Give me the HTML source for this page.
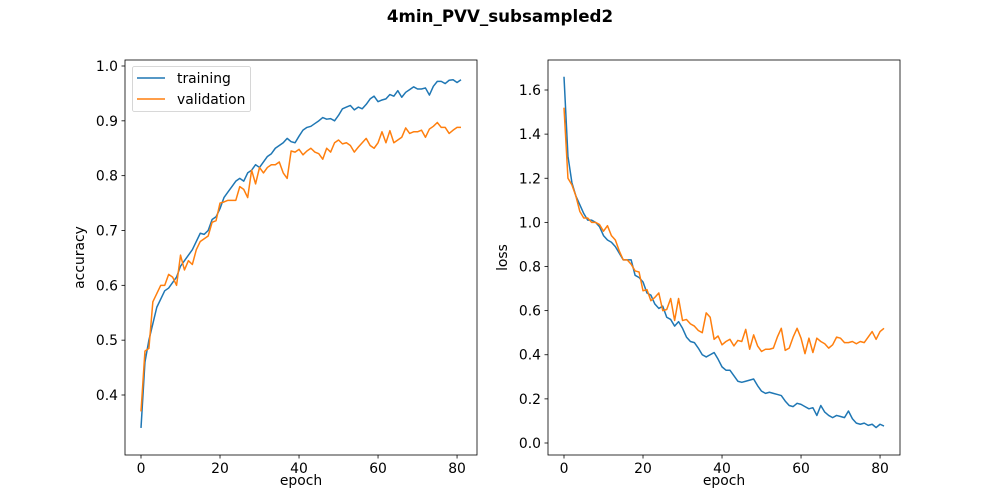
<!DOCTYPE html>
<html><head><meta charset="utf-8"><style>
html,body{margin:0;padding:0;background:#fff;overflow:hidden;}
svg{display:block;}
svg text{font-family:"DejaVu Sans","Liberation Sans",sans-serif;font-size:13.9px;fill:#000;}
</style></head><body>
<svg id="c" width="1000" height="500" xmlns="http://www.w3.org/2000/svg">
<rect width="1000" height="500" fill="#fff"/>
<text x="500" y="22" text-anchor="middle" style="font-size:16.7px;font-weight:bold">4min_PVV_subsampled2</text>
</svg>
<script>
const epochs = Array.from({length:82},(_, i)=>i);
const accTrain=[0.34,0.46,0.50,0.53,0.56,0.575,0.59,0.595,0.605,0.615,0.635,0.645,0.655,0.665,0.68,0.695,0.693,0.70,0.72,0.725,0.74,0.76,0.77,0.78,0.79,0.795,0.79,0.805,0.81,0.82,0.815,0.825,0.835,0.84,0.85,0.855,0.86,0.868,0.862,0.86,0.872,0.883,0.888,0.89,0.895,0.90,0.906,0.903,0.904,0.90,0.91,0.922,0.925,0.928,0.92,0.925,0.922,0.93,0.94,0.945,0.935,0.938,0.94,0.948,0.945,0.955,0.943,0.952,0.957,0.962,0.958,0.958,0.96,0.947,0.963,0.972,0.972,0.968,0.974,0.975,0.97,0.975];
const accVal=[0.37,0.48,0.485,0.57,0.585,0.60,0.60,0.62,0.615,0.60,0.655,0.628,0.645,0.638,0.665,0.68,0.685,0.69,0.715,0.718,0.75,0.752,0.755,0.755,0.755,0.78,0.775,0.76,0.81,0.785,0.815,0.805,0.815,0.82,0.82,0.825,0.805,0.795,0.845,0.843,0.848,0.838,0.845,0.85,0.843,0.84,0.83,0.85,0.843,0.86,0.865,0.858,0.86,0.855,0.843,0.852,0.86,0.868,0.855,0.85,0.86,0.88,0.86,0.882,0.86,0.865,0.87,0.887,0.877,0.88,0.88,0.883,0.87,0.885,0.89,0.897,0.888,0.888,0.877,0.883,0.888,0.888];
const lossTrain=[1.66,1.3,1.18,1.12,1.08,1.04,1.01,1.01,1.0,0.98,0.94,0.92,0.91,0.89,0.86,0.83,0.83,0.83,0.76,0.75,0.73,0.68,0.67,0.63,0.61,0.62,0.57,0.56,0.53,0.55,0.52,0.48,0.46,0.455,0.43,0.40,0.39,0.40,0.41,0.38,0.345,0.33,0.33,0.305,0.28,0.275,0.28,0.285,0.29,0.26,0.235,0.225,0.23,0.225,0.22,0.215,0.19,0.17,0.165,0.18,0.175,0.165,0.155,0.16,0.125,0.17,0.14,0.125,0.115,0.125,0.12,0.115,0.145,0.11,0.09,0.085,0.09,0.08,0.085,0.07,0.085,0.077];
const lossVal=[1.52,1.2,1.17,1.12,1.05,1.02,1.02,1.0,1.0,0.99,0.96,0.985,0.94,0.92,0.87,0.83,0.83,0.81,0.78,0.775,0.69,0.695,0.645,0.66,0.68,0.6,0.605,0.655,0.555,0.655,0.555,0.56,0.54,0.53,0.51,0.5,0.59,0.57,0.47,0.485,0.445,0.46,0.47,0.44,0.465,0.46,0.515,0.425,0.49,0.44,0.415,0.425,0.425,0.43,0.48,0.52,0.42,0.43,0.48,0.52,0.475,0.405,0.475,0.41,0.475,0.46,0.45,0.43,0.445,0.48,0.475,0.455,0.455,0.46,0.45,0.46,0.455,0.48,0.505,0.47,0.505,0.52];
const xTicks=[0,20,40,60,80];
const accTicks=[0.4,0.5,0.6,0.7,0.8,0.9,1.0];
const lossTicks=[0.0,0.2,0.4,0.6,0.8,1.0,1.2,1.4,1.6];
const NS="http://www.w3.org/2000/svg";
const svg=document.getElementById('c');
function mk(tag,attrs,parent){const e=document.createElementNS(NS,tag);for(const k in attrs)e.setAttribute(k,attrs[k]);(parent||svg).appendChild(e);return e;}
function panel(name,L,R,T,B,x0,x1,y0,y1,yTicks,ylabel,dec,series){
  const g=mk('g',{});
  
  
  const sx=v=>L+(v-x0)/(x1-x0)*(R-L);
  const sy=v=>B-(v-y0)/(y1-y0)*(B-T);
  series.forEach(s=>{
    const p=mk('polyline',{points:s.vals.map((v,i)=>sx(epochs[i]).toFixed(2)+','+sy(v).toFixed(2)).join(' '),fill:'none',stroke:s.color,'stroke-width':1.5,'stroke-linejoin':'round'},g);
    
    
  });
  const f=mk('rect',{x:L,y:T,width:R-L,height:B-T,fill:'none',stroke:'#000','stroke-width':0.8},g);
  
  
  xTicks.forEach(t=>{const x=sx(t);mk('line',{x1:x,x2:x,y1:B,y2:B+3.5,stroke:'#000','stroke-width':0.8},g);
    const tx=mk('text',{x:x,y:B+18,'text-anchor':'middle'},g);tx.textContent=t;
    
    });
  yTicks.forEach(t=>{const y=sy(t);mk('line',{x1:L-3.5,x2:L,y1:y,y2:y,stroke:'#000','stroke-width':0.8},g);
    const tx=mk('text',{x:L-7,y:y+5,'text-anchor':'end'},g);tx.textContent=t.toFixed(dec);
    
    });
  const xl=mk('text',{x:(L+R)/2,y:B+30,'text-anchor':'middle'},g);xl.textContent='epoch';
  
  
  const yl=mk('text',{x:0,y:0,'text-anchor':'middle',transform:`translate(${L-41},${(T+B)/2}) rotate(-90)`},g);yl.textContent=ylabel;
  
  
}
const blue='#1f77b4',orange='#ff7f0e';
panel('accuracy',125,477,60,455,-4.05,85.05,0.29057,1.01094,accTicks,'accuracy',1,[{id:'training',vals:accTrain,color:blue},{id:'validation',vals:accVal,color:orange}]);
panel('loss',548,900,60,455,-4.05,85.05,-0.0544,1.736,lossTicks,'loss',1,[{id:'training',vals:lossTrain,color:blue},{id:'validation',vals:lossVal,color:orange}]);
const lg=mk('g',{});


mk('rect',{x:132.5,y:66.5,width:118,height:45,rx:2,fill:'#fff','fill-opacity':0.8,stroke:'#ccc','stroke-width':0.8},lg);
[['training',blue,78],['validation',orange,99]].forEach(([n,c,y])=>{
  const e=mk('g',{},lg);
  
  
  mk('line',{x1:137,x2:165,y1:y,y2:y,stroke:c,'stroke-width':1.5},e);
  const t=mk('text',{x:177,y:y+5},e);t.textContent=n;
});
</script>
</body></html>
